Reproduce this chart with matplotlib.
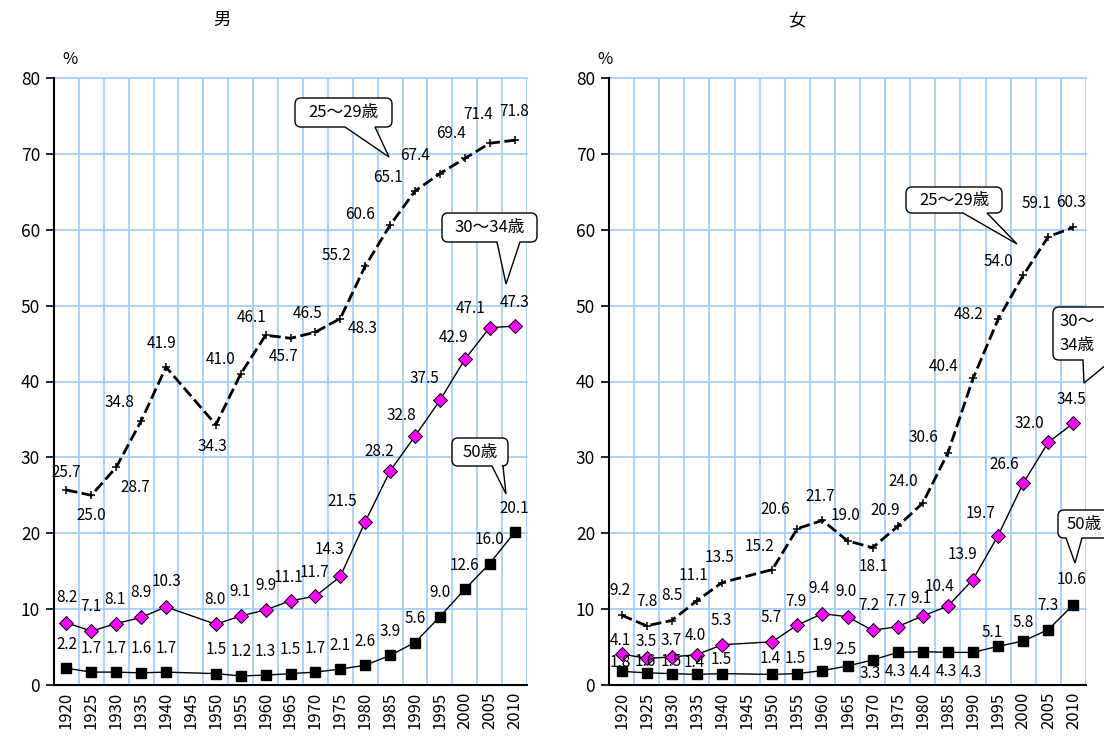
import matplotlib
matplotlib.use('Agg')
import matplotlib.pyplot as plt
from matplotlib.path import Path
from matplotlib.patches import PathPatch
import numpy as np

plt.rcParams['font.family'] = ['Noto Sans CJK JP', 'DejaVu Sans']

nan = np.nan
years = [1920, 1925, 1930, 1935, 1940, 1945, 1950, 1955, 1960, 1965,
         1970, 1975, 1980, 1985, 1990, 1995, 2000, 2005, 2010]

# 男
male_25_29 = [25.7, 25.0, 28.7, 34.8, 41.9, nan, 34.3, 41.0, 46.1, 45.7,
              46.5, 48.3, 55.2, 60.6, 65.1, 67.4, 69.4, 71.4, 71.8]
male_30_34 = [8.2, 7.1, 8.1, 8.9, 10.3, nan, 8.0, 9.1, 9.9, 11.1,
              11.7, 14.3, 21.5, 28.2, 32.8, 37.5, 42.9, 47.1, 47.3]
male_50 = [2.2, 1.7, 1.7, 1.6, 1.7, nan, 1.5, 1.2, 1.3, 1.5,
           1.7, 2.1, 2.6, 3.9, 5.6, 9.0, 12.6, 16.0, 20.1]

# 女
female_25_29 = [9.2, 7.8, 8.5, 11.1, 13.5, nan, 15.2, 20.6, 21.7, 19.0,
                18.1, 20.9, 24.0, 30.6, 40.4, 48.2, 54.0, 59.1, 60.3]
female_30_34 = [4.1, 3.5, 3.7, 4.0, 5.3, nan, 5.7, 7.9, 9.4, 9.0,
                7.2, 7.7, 9.1, 10.4, 13.9, 19.7, 26.6, 32.0, 34.5]
female_50 = [1.8, 1.6, 1.5, 1.4, 1.5, nan, 1.4, 1.5, 1.9, 2.5,
             3.3, 4.3, 4.4, 4.3, 4.3, 5.1, 5.8, 7.3, 10.6]

# label offsets in pixels (dx, dy with y downward), one per non-missing point
off_m25 = [(0, -18), (0, 20), (19, 20), (-22, -18), (-4, -24), (-3, 22), (-20, -14),
           (-14, -18), (-7, 18), (-8, -19), (22, 10), (-29, -11), (-30, -11),
           (-27, -14), (-25, -18), (-14, -25), (-12, -29), (0, -29)]
off_m30 = [(0, -25), (0, -25), (-1, -24), (0, -25), (0, -25), (-1, -25), (-1, -24),
           (0, -24), (-2, -23), (-1, -24), (-11, -27), (-23, -20), (-11, -20),
           (-14, -21), (-15, -22), (-11, -22), (-19, -19), (0, -24)]
off_m50 = [(0, -24)] * 18
off_f25 = [(-2, -25), (0, -24), (0, -25), (-3, -25), (-2, -25), (-13, -23), (-22, -19),
           (-2, -24), (-2, -25), (1, 19), (-12, -16), (-20, -21), (-25, -15),
           (-29, -12), (-30, -5), (-25, -14), (-12, -33), (-2, -25)]
off_f30 = [(-1, -13), (-1, -17), (-1, -16), (-1, -19), (-1, -24), (-1, -24), (-1, -24),
           (-3, -25), (-1, -25), (-4, -25), (-2, -25), (-2, -17), (-8, -20),
           (-11, -25), (-18, -22), (-19, -19), (-19, -19), (-2, -24)]
off_f50 = [(-1, -9), (-1, -11), (-1, -12), (-3, -12), (-1, -14), (-2, -16), (-2, -15),
           (0, -25), (-2, -17), (-2, 14), (-2, 19), (-2, 21), (-2, 19), (-2, 20),
           (-6, -14), (0, -18), (0, -24), (-2, -25)]

W, H = 1104, 741
fig = plt.figure(figsize=(W / 100, H / 100), dpi=100)
gridc = '#a3cfff'

style_25 = dict(color='black', lw=2.0, ls=(0, (4, 1.6)), marker='+', ms=6, mew=1.1)
style_30 = dict(color='black', lw=1.0, marker='D', ms=7, mfc='#ff00ff', mec='black', mew=0.7)
style_50 = dict(color='black', lw=1.0, marker='s', ms=6.5, mfc='black', mec='black')


def panel(rect, series):
    ax = fig.add_axes(rect)
    idx = np.arange(len(years))
    for vals, st, offs in series:
        vals = np.array(vals)
        m = ~np.isnan(vals)
        ax.plot(idx[m], vals[m], zorder=3, **st)
        for xi, v, (dx, dy) in zip(idx[m], vals[m], offs):
            ax.annotate(f'{v:.1f}', (xi, v), xytext=(dx, -dy), textcoords='offset pixels',
                        ha='center', va='center', fontsize=11, zorder=4)
    ax.set_xlim(-0.5, len(years) - 0.5)
    ax.set_ylim(0, 80)
    ax.set_xticks(idx)
    ax.set_xticklabels([str(y) for y in years], rotation=90, fontsize=12)
    ax.set_xticks(np.arange(0.5, len(years), 1), minor=True)
    ax.tick_params(axis='x', which='both', length=0, pad=5)
    ax.set_yticks(range(0, 81, 10))
    ax.tick_params(axis='y', length=6, width=1.2, labelsize=12.5, pad=4)
    ax.grid(True, which='minor', axis='x', color=gridc, lw=1.3)
    ax.grid(True, which='major', axis='y', color=gridc, lw=1.3)
    ax.grid(False, which='major', axis='x')
    ax.set_axisbelow(True)
    for sp in ('top', 'right'):
        ax.spines[sp].set_visible(False)
    for sp in ('left', 'bottom'):
        ax.spines[sp].set_linewidth(1.5)
    ax.spines['bottom'].set_zorder(5)
    for gl in ax.xaxis.get_gridlines() + ax.yaxis.get_gridlines():
        gl.set_clip_on(False)
    return ax


bottom = 1 - 685 / H
height = 607 / H
ax1 = panel([54 / W, bottom, 473 / W, height],
            [(male_25_29, style_25, off_m25), (male_30_34, style_30, off_m30),
             (male_50, style_50, off_m50)])
ax2 = panel([609 / W, bottom, 477 / W, height],
            [(female_25_29, style_25, off_f25), (female_30_34, style_30, off_f30),
             (female_50, style_50, off_f50)])
for ax in (ax1, ax2):
    for gl in ax.xaxis.get_minorticklines():
        gl.set_visible(False)


def P(x, y):
    return (x / W, 1 - y / H)


def callout(x0, y0, x1, y1, b0, b1, tip, text, r=6, ha='center'):
    C3 = Path.CURVE3
    verts = [P(x0 + r, y0), P(x1 - r, y0), P(x1, y0), P(x1, y0 + r), P(x1, y1 - r),
             P(x1, y1), P(x1 - r, y1), P(b1, y1), P(*tip), P(b0, y1), P(x0 + r, y1),
             P(x0, y1), P(x0, y1 - r), P(x0, y0 + r), P(x0, y0), P(x0 + r, y0),
             P(x0 + r, y0)]
    codes = [Path.MOVETO, Path.LINETO, C3, C3, Path.LINETO, C3, C3, Path.LINETO,
             Path.LINETO, Path.LINETO, Path.LINETO, C3, C3, Path.LINETO, C3, C3,
             Path.CLOSEPOLY]
    fig.add_artist(PathPatch(Path(verts, codes), transform=fig.transFigure,
                             fc='white', ec='black', lw=1.0, zorder=10))
    if ha == 'center':
        fig.text(*P((x0 + x1) / 2, (y0 + y1) / 2), text, ha='center', va='center',
                 fontsize=12, zorder=11)
    else:
        fig.text(*P(x0 + 6, (y0 + y1) / 2), text, ha='left', va='center',
                 fontsize=12, zorder=11, linespacing=1.5)


callout(295, 98, 392, 127, 345, 375, (389, 157), '25～29歳')
callout(442, 213, 537, 242, 497, 520, (506, 284), '30～34歳')
callout(452, 438, 508, 466, 492, 503, (506, 494), '50歳')
callout(906, 187, 1002, 213, 963, 987, (1017, 244), '25～29歳')
callout(1053, 307, 1115, 360, 1083, 1112, (1084, 383), '30～\n34歳', ha='left')
callout(1058, 510, 1110, 538, 1066, 1082, (1075, 563), '50歳')

fig.text(*P(222, 20), '男', ha='center', va='center', fontsize=12.5)
fig.text(*P(797, 20), '女', ha='center', va='center', fontsize=12.5)
fig.text(*P(70, 60), '%', ha='center', va='center', fontsize=12)
fig.text(*P(605, 60), '%', ha='center', va='center', fontsize=12)

fig.savefig('out.png', dpi=100)
